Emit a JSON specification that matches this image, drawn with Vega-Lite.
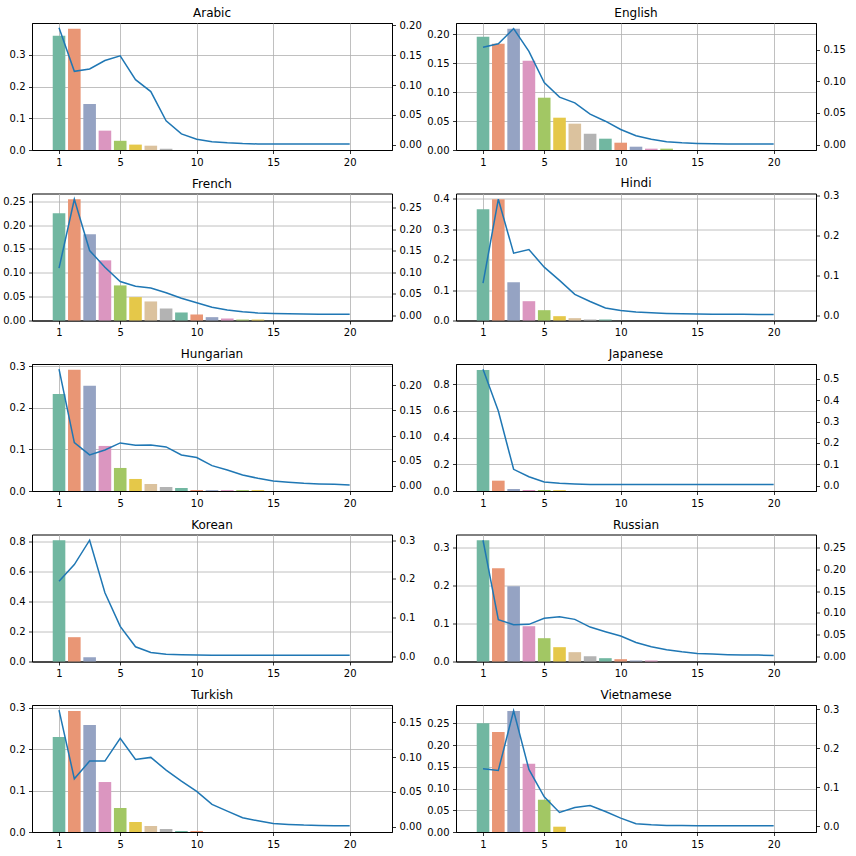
{
"$schema": "https://vega.github.io/schema/vega-lite/v6.json",
"autosize": {"type": "pad"},
"padding": {"left": 2, "top": 6, "right": 0, "bottom": 0},
"background": "white",
"config": {
 "font": "DejaVu Sans",
 "view": {"stroke": "#000", "strokeWidth": 1},
 "axis": {"labelFont": "DejaVu Sans", "labelFontSize": 10, "labelColor": "#000", "tickColor": "#000", "tickSize": 3.5, "tickWidth": 0.8, "labelPadding": 3.5, "domainColor": "#000", "domainWidth": 1, "gridColor": "#b0b0b0", "gridWidth": 0.8, "zindex": 1, "title": null},
 "title": {"font": "DejaVu Sans", "fontSize": 12, "fontWeight": "normal", "color": "#000", "offset": 6, "baseline": "alphabetic", "frame": "group", "anchor": "middle"}
},
"datasets": {
 "bars": [
  {"lang":"Arabic","x":1,"v":0.360},{"lang":"Arabic","x":2,"v":0.382},{"lang":"Arabic","x":3,"v":0.145},{"lang":"Arabic","x":4,"v":0.061},{"lang":"Arabic","x":5,"v":0.029},{"lang":"Arabic","x":6,"v":0.017},{"lang":"Arabic","x":7,"v":0.0136},{"lang":"Arabic","x":8,"v":0.004},
  {"lang":"English","x":1,"v":0.1954},{"lang":"English","x":2,"v":0.1833},{"lang":"English","x":3,"v":0.2092},{"lang":"English","x":4,"v":0.154},{"lang":"English","x":5,"v":0.0902},{"lang":"English","x":6,"v":0.0557},{"lang":"English","x":7,"v":0.0454},{"lang":"English","x":8,"v":0.0282},{"lang":"English","x":9,"v":0.0195},{"lang":"English","x":10,"v":0.0126},{"lang":"English","x":11,"v":0.0057},{"lang":"English","x":12,"v":0.0023},{"lang":"English","x":13,"v":0.0023},
  {"lang":"French","x":1,"v":0.2248},{"lang":"French","x":2,"v":0.2542},{"lang":"French","x":3,"v":0.1807},{"lang":"French","x":4,"v":0.126},{"lang":"French","x":5,"v":0.0735},{"lang":"French","x":6,"v":0.049},{"lang":"French","x":7,"v":0.0399},{"lang":"French","x":8,"v":0.0252},{"lang":"French","x":9,"v":0.0168},{"lang":"French","x":10,"v":0.0126},{"lang":"French","x":11,"v":0.007},{"lang":"French","x":12,"v":0.0042},{"lang":"French","x":13,"v":0.002},{"lang":"French","x":14,"v":0.002},
  {"lang":"Hindi","x":1,"v":0.365},{"lang":"Hindi","x":2,"v":0.398},{"lang":"Hindi","x":3,"v":0.1257},{"lang":"Hindi","x":4,"v":0.0634},{"lang":"Hindi","x":5,"v":0.0339},{"lang":"Hindi","x":6,"v":0.0142},{"lang":"Hindi","x":7,"v":0.0077},{"lang":"Hindi","x":8,"v":0.0033},{"lang":"Hindi","x":9,"v":0.0033},
  {"lang":"Hungarian","x":1,"v":0.234},{"lang":"Hungarian","x":2,"v":0.292},{"lang":"Hungarian","x":3,"v":0.2534},{"lang":"Hungarian","x":4,"v":0.1086},{"lang":"Hungarian","x":5,"v":0.0555},{"lang":"Hungarian","x":6,"v":0.029},{"lang":"Hungarian","x":7,"v":0.0169},{"lang":"Hungarian","x":8,"v":0.0097},{"lang":"Hungarian","x":9,"v":0.0072},{"lang":"Hungarian","x":10,"v":0.0024},{"lang":"Hungarian","x":11,"v":0.002},{"lang":"Hungarian","x":12,"v":0.002},{"lang":"Hungarian","x":13,"v":0.002},{"lang":"Hungarian","x":14,"v":0.002},
  {"lang":"Japanese","x":1,"v":0.907},{"lang":"Japanese","x":2,"v":0.0773},{"lang":"Japanese","x":3,"v":0.015},{"lang":"Japanese","x":4,"v":0.0075},{"lang":"Japanese","x":5,"v":0.0075},{"lang":"Japanese","x":6,"v":0.006},
  {"lang":"Korean","x":1,"v":0.8066},{"lang":"Korean","x":2,"v":0.1618},{"lang":"Korean","x":3,"v":0.0288},
  {"lang":"Russian","x":1,"v":0.3184},{"lang":"Russian","x":2,"v":0.2449},{"lang":"Russian","x":3,"v":0.1977},{"lang":"Russian","x":4,"v":0.0927},{"lang":"Russian","x":5,"v":0.0612},{"lang":"Russian","x":6,"v":0.0376},{"lang":"Russian","x":7,"v":0.0245},{"lang":"Russian","x":8,"v":0.014},{"lang":"Russian","x":9,"v":0.0087},{"lang":"Russian","x":10,"v":0.0061},{"lang":"Russian","x":11,"v":0.0026},{"lang":"Russian","x":12,"v":0.0026},
  {"lang":"Turkish","x":1,"v":0.2292},{"lang":"Turkish","x":2,"v":0.292},{"lang":"Turkish","x":3,"v":0.2582},{"lang":"Turkish","x":4,"v":0.1206},{"lang":"Turkish","x":5,"v":0.0579},{"lang":"Turkish","x":6,"v":0.0241},{"lang":"Turkish","x":7,"v":0.0145},{"lang":"Turkish","x":8,"v":0.0072},{"lang":"Turkish","x":9,"v":0.0024},{"lang":"Turkish","x":10,"v":0.0024},
  {"lang":"Vietnamese","x":1,"v":0.25},{"lang":"Vietnamese","x":2,"v":0.2301},{"lang":"Vietnamese","x":3,"v":0.2783},{"lang":"Vietnamese","x":4,"v":0.1567},{"lang":"Vietnamese","x":5,"v":0.0742},{"lang":"Vietnamese","x":6,"v":0.0122}
 ],
 "lines": [
  {"lang":"Arabic","x":1,"v":0.196},{"lang":"Arabic","x":2,"v":0.123},{"lang":"Arabic","x":3,"v":0.127},{"lang":"Arabic","x":4,"v":0.141},{"lang":"Arabic","x":5,"v":0.149},{"lang":"Arabic","x":6,"v":0.109},{"lang":"Arabic","x":7,"v":0.089},{"lang":"Arabic","x":8,"v":0.040},{"lang":"Arabic","x":9,"v":0.018},{"lang":"Arabic","x":10,"v":0.009},{"lang":"Arabic","x":11,"v":0.005},{"lang":"Arabic","x":12,"v":0.003},{"lang":"Arabic","x":13,"v":0.0017},{"lang":"Arabic","x":14,"v":0.0012},{"lang":"Arabic","x":15,"v":0.001},{"lang":"Arabic","x":16,"v":0.001},{"lang":"Arabic","x":17,"v":0.001},{"lang":"Arabic","x":18,"v":0.001},{"lang":"Arabic","x":19,"v":0.001},{"lang":"Arabic","x":20,"v":0.001},
  {"lang":"English","x":1,"v":0.1537},{"lang":"English","x":2,"v":0.159},{"lang":"English","x":3,"v":0.183},{"lang":"English","x":4,"v":0.147},{"lang":"English","x":5,"v":0.098},{"lang":"English","x":6,"v":0.075},{"lang":"English","x":7,"v":0.066},{"lang":"English","x":8,"v":0.048},{"lang":"English","x":9,"v":0.037},{"lang":"English","x":10,"v":0.024},{"lang":"English","x":11,"v":0.014},{"lang":"English","x":12,"v":0.0084},{"lang":"English","x":13,"v":0.0047},{"lang":"English","x":14,"v":0.003},{"lang":"English","x":15,"v":0.002},{"lang":"English","x":16,"v":0.0015},{"lang":"English","x":17,"v":0.0012},{"lang":"English","x":18,"v":0.001},{"lang":"English","x":19,"v":0.001},{"lang":"English","x":20,"v":0.001},
  {"lang":"French","x":1,"v":0.110},{"lang":"French","x":2,"v":0.270},{"lang":"French","x":3,"v":0.151},{"lang":"French","x":4,"v":0.112},{"lang":"French","x":5,"v":0.079},{"lang":"French","x":6,"v":0.068},{"lang":"French","x":7,"v":0.064},{"lang":"French","x":8,"v":0.053},{"lang":"French","x":9,"v":0.040},{"lang":"French","x":10,"v":0.0295},{"lang":"French","x":11,"v":0.019},{"lang":"French","x":12,"v":0.013},{"lang":"French","x":13,"v":0.0085},{"lang":"French","x":14,"v":0.006},{"lang":"French","x":15,"v":0.0047},{"lang":"French","x":16,"v":0.004},{"lang":"French","x":17,"v":0.0035},{"lang":"French","x":18,"v":0.003},{"lang":"French","x":19,"v":0.003},{"lang":"French","x":20,"v":0.003},
  {"lang":"Hindi","x":1,"v":0.080},{"lang":"Hindi","x":2,"v":0.290},{"lang":"Hindi","x":3,"v":0.155},{"lang":"Hindi","x":4,"v":0.164},{"lang":"Hindi","x":5,"v":0.120},{"lang":"Hindi","x":6,"v":0.087},{"lang":"Hindi","x":7,"v":0.052},{"lang":"Hindi","x":8,"v":0.034},{"lang":"Hindi","x":9,"v":0.018},{"lang":"Hindi","x":10,"v":0.0117},{"lang":"Hindi","x":11,"v":0.0075},{"lang":"Hindi","x":12,"v":0.0058},{"lang":"Hindi","x":13,"v":0.0042},{"lang":"Hindi","x":14,"v":0.0033},{"lang":"Hindi","x":15,"v":0.0025},{"lang":"Hindi","x":16,"v":0.0023},{"lang":"Hindi","x":17,"v":0.0021},{"lang":"Hindi","x":18,"v":0.0019},{"lang":"Hindi","x":19,"v":0.0018},{"lang":"Hindi","x":20,"v":0.0017},
  {"lang":"Hungarian","x":1,"v":0.2318},{"lang":"Hungarian","x":2,"v":0.0861},{"lang":"Hungarian","x":3,"v":0.0616},{"lang":"Hungarian","x":4,"v":0.0715},{"lang":"Hungarian","x":5,"v":0.0854},{"lang":"Hungarian","x":6,"v":0.0808},{"lang":"Hungarian","x":7,"v":0.0815},{"lang":"Hungarian","x":8,"v":0.0775},{"lang":"Hungarian","x":9,"v":0.0616},{"lang":"Hungarian","x":10,"v":0.0563},{"lang":"Hungarian","x":11,"v":0.0404},{"lang":"Hungarian","x":12,"v":0.0318},{"lang":"Hungarian","x":13,"v":0.0219},{"lang":"Hungarian","x":14,"v":0.0152},{"lang":"Hungarian","x":15,"v":0.0099},{"lang":"Hungarian","x":16,"v":0.0073},{"lang":"Hungarian","x":17,"v":0.0053},{"lang":"Hungarian","x":18,"v":0.004},{"lang":"Hungarian","x":19,"v":0.0033},{"lang":"Hungarian","x":20,"v":0.002},
  {"lang":"Japanese","x":1,"v":0.545},{"lang":"Japanese","x":2,"v":0.350},{"lang":"Japanese","x":3,"v":0.0766},{"lang":"Japanese","x":4,"v":0.042},{"lang":"Japanese","x":5,"v":0.017},{"lang":"Japanese","x":6,"v":0.011},{"lang":"Japanese","x":7,"v":0.008},{"lang":"Japanese","x":8,"v":0.006},{"lang":"Japanese","x":9,"v":0.0055},{"lang":"Japanese","x":10,"v":0.005},{"lang":"Japanese","x":11,"v":0.005},{"lang":"Japanese","x":12,"v":0.005},{"lang":"Japanese","x":13,"v":0.005},{"lang":"Japanese","x":14,"v":0.005},{"lang":"Japanese","x":15,"v":0.005},{"lang":"Japanese","x":16,"v":0.005},{"lang":"Japanese","x":17,"v":0.005},{"lang":"Japanese","x":18,"v":0.005},{"lang":"Japanese","x":19,"v":0.005},{"lang":"Japanese","x":20,"v":0.005},
  {"lang":"Korean","x":1,"v":0.1937},{"lang":"Korean","x":2,"v":0.237},{"lang":"Korean","x":3,"v":0.300},{"lang":"Korean","x":4,"v":0.164},{"lang":"Korean","x":5,"v":0.077},{"lang":"Korean","x":6,"v":0.024},{"lang":"Korean","x":7,"v":0.0095},{"lang":"Korean","x":8,"v":0.005},{"lang":"Korean","x":9,"v":0.0035},{"lang":"Korean","x":10,"v":0.0026},{"lang":"Korean","x":11,"v":0.0023},{"lang":"Korean","x":12,"v":0.0021},{"lang":"Korean","x":13,"v":0.002},{"lang":"Korean","x":14,"v":0.002},{"lang":"Korean","x":15,"v":0.002},{"lang":"Korean","x":16,"v":0.002},{"lang":"Korean","x":17,"v":0.002},{"lang":"Korean","x":18,"v":0.002},{"lang":"Korean","x":19,"v":0.002},{"lang":"Korean","x":20,"v":0.002},
  {"lang":"Russian","x":1,"v":0.2677},{"lang":"Russian","x":2,"v":0.0841},{"lang":"Russian","x":3,"v":0.0725},{"lang":"Russian","x":4,"v":0.0733},{"lang":"Russian","x":5,"v":0.0872},{"lang":"Russian","x":6,"v":0.091},{"lang":"Russian","x":7,"v":0.0849},{"lang":"Russian","x":8,"v":0.0671},{"lang":"Russian","x":9,"v":0.0563},{"lang":"Russian","x":10,"v":0.0463},{"lang":"Russian","x":11,"v":0.0316},{"lang":"Russian","x":12,"v":0.0216},{"lang":"Russian","x":13,"v":0.0147},{"lang":"Russian","x":14,"v":0.01},{"lang":"Russian","x":15,"v":0.0062},{"lang":"Russian","x":16,"v":0.0046},{"lang":"Russian","x":17,"v":0.0031},{"lang":"Russian","x":18,"v":0.0023},{"lang":"Russian","x":19,"v":0.0023},{"lang":"Russian","x":20,"v":0.0015},
  {"lang":"Turkish","x":1,"v":0.1677},{"lang":"Turkish","x":2,"v":0.069},{"lang":"Turkish","x":3,"v":0.0944},{"lang":"Turkish","x":4,"v":0.0944},{"lang":"Turkish","x":5,"v":0.127},{"lang":"Turkish","x":6,"v":0.0968},{"lang":"Turkish","x":7,"v":0.0997},{"lang":"Turkish","x":8,"v":0.0815},{"lang":"Turkish","x":9,"v":0.0657},{"lang":"Turkish","x":10,"v":0.0508},{"lang":"Turkish","x":11,"v":0.0321},{"lang":"Turkish","x":12,"v":0.0225},{"lang":"Turkish","x":13,"v":0.0129},{"lang":"Turkish","x":14,"v":0.0086},{"lang":"Turkish","x":15,"v":0.0048},{"lang":"Turkish","x":16,"v":0.0034},{"lang":"Turkish","x":17,"v":0.0024},{"lang":"Turkish","x":18,"v":0.0019},{"lang":"Turkish","x":19,"v":0.0014},{"lang":"Turkish","x":20,"v":0.0014},
  {"lang":"Vietnamese","x":1,"v":0.147},{"lang":"Vietnamese","x":2,"v":0.1427},{"lang":"Vietnamese","x":3,"v":0.2957},{"lang":"Vietnamese","x":4,"v":0.1453},{"lang":"Vietnamese","x":5,"v":0.0752},{"lang":"Vietnamese","x":6,"v":0.035},{"lang":"Vietnamese","x":7,"v":0.0479},{"lang":"Vietnamese","x":8,"v":0.053},{"lang":"Vietnamese","x":9,"v":0.0376},{"lang":"Vietnamese","x":10,"v":0.0205},{"lang":"Vietnamese","x":11,"v":0.006},{"lang":"Vietnamese","x":12,"v":0.0034},{"lang":"Vietnamese","x":13,"v":0.0017},{"lang":"Vietnamese","x":14,"v":0.0014},{"lang":"Vietnamese","x":15,"v":0.0012},{"lang":"Vietnamese","x":16,"v":0.0011},{"lang":"Vietnamese","x":17,"v":0.001},{"lang":"Vietnamese","x":18,"v":0.001},{"lang":"Vietnamese","x":19,"v":0.001},{"lang":"Vietnamese","x":20,"v":0.0009}
 ]
},
"columns": 2,
"spacing": {"row": 43.5, "column": 64},
"bounds": "flush",
"concat": [
 {"title": {"text": "Arabic", "offset": 0}, "width": 360, "height": 127,
  "layer": [
   {"data": {"name": "bars"}, "transform": [{"filter": "datum.lang === 'Arabic'"}], "mark": {"type": "bar", "size": 12.6},
    "encoding": {"x": {"field": "x", "type": "quantitative", "scale": {"domain": [-0.44, 22.44], "nice": false, "zero": false}, "axis": {"values": [1,5,10,15,20], "format": "d", "grid": true}},
     "y": {"field": "v", "type": "quantitative", "scale": {"domain": [0, 0.4], "nice": false}, "axis": {"orient": "left", "values": [0,0.1,0.2,0.3], "format": ".1f", "grid": true}},
     "color": {"field": "x", "type": "ordinal", "scale": {"domain": [1,2,3,4,5,6,7,8,9,10,11,12,13,14], "range": ["#71b7a1","#e99675","#95a3c3","#db96c0","#a2c764","#e5c849","#dbc29e","#b3b3b3","#71b7a1","#e99675","#95a3c3","#db96c0","#a2c764","#e5c849"]}, "legend": null}}},
   {"data": {"name": "lines"}, "transform": [{"filter": "datum.lang === 'Arabic'"}], "mark": {"type": "line", "color": "#1f77b4", "strokeWidth": 1.5},
    "encoding": {"x": {"field": "x", "type": "quantitative"},
     "y": {"field": "v", "type": "quantitative", "scale": {"domain": [-0.009, 0.204], "nice": false, "zero": false}, "axis": {"orient": "right", "values": [0,0.05,0.1,0.15,0.2], "format": ".2f", "grid": false}}}}
  ],
  "resolve": {"scale": {"y": "independent"}, "axis": {"y": "independent"}}},
 {"title": {"text": "English", "offset": 2.7}, "width": 360, "height": 127,
  "layer": [
   {"data": {"name": "bars"}, "transform": [{"filter": "datum.lang === 'English'"}], "mark": {"type": "bar", "size": 12.6},
    "encoding": {"x": {"field": "x", "type": "quantitative", "scale": {"domain": [-0.44, 22.44], "nice": false, "zero": false}, "axis": {"values": [1,5,10,15,20], "format": "d", "grid": true}},
     "y": {"field": "v", "type": "quantitative", "scale": {"domain": [0, 0.219], "nice": false}, "axis": {"orient": "left", "values": [0,0.05,0.1,0.15,0.2], "format": ".2f", "grid": true}},
     "color": {"field": "x", "type": "ordinal", "scale": {"domain": [1,2,3,4,5,6,7,8,9,10,11,12,13,14], "range": ["#71b7a1","#e99675","#95a3c3","#db96c0","#a2c764","#e5c849","#dbc29e","#b3b3b3","#71b7a1","#e99675","#95a3c3","#db96c0","#a2c764","#e5c849"]}, "legend": null}}},
   {"data": {"name": "lines"}, "transform": [{"filter": "datum.lang === 'English'"}], "mark": {"type": "line", "color": "#1f77b4", "strokeWidth": 1.5},
    "encoding": {"x": {"field": "x", "type": "quantitative"},
     "y": {"field": "v", "type": "quantitative", "scale": {"domain": [-0.0084, 0.1918], "nice": false, "zero": false}, "axis": {"orient": "right", "values": [0,0.05,0.1,0.15], "format": ".2f", "grid": false}}}}
  ],
  "resolve": {"scale": {"y": "independent"}, "axis": {"y": "independent"}}},
 {"title": {"text": "French", "offset": 2.7}, "width": 360, "height": 127,
  "layer": [
   {"data": {"name": "bars"}, "transform": [{"filter": "datum.lang === 'French'"}], "mark": {"type": "bar", "size": 12.6},
    "encoding": {"x": {"field": "x", "type": "quantitative", "scale": {"domain": [-0.44, 22.44], "nice": false, "zero": false}, "axis": {"values": [1,5,10,15,20], "format": "d", "grid": true}},
     "y": {"field": "v", "type": "quantitative", "scale": {"domain": [0, 0.266], "nice": false}, "axis": {"orient": "left", "values": [0,0.05,0.1,0.15,0.2,0.25], "format": ".2f", "grid": true}},
     "color": {"field": "x", "type": "ordinal", "scale": {"domain": [1,2,3,4,5,6,7,8,9,10,11,12,13,14], "range": ["#71b7a1","#e99675","#95a3c3","#db96c0","#a2c764","#e5c849","#dbc29e","#b3b3b3","#71b7a1","#e99675","#95a3c3","#db96c0","#a2c764","#e5c849"]}, "legend": null}}},
   {"data": {"name": "lines"}, "transform": [{"filter": "datum.lang === 'French'"}], "mark": {"type": "line", "color": "#1f77b4", "strokeWidth": 1.5},
    "encoding": {"x": {"field": "x", "type": "quantitative"},
     "y": {"field": "v", "type": "quantitative", "scale": {"domain": [-0.0116, 0.2834], "nice": false, "zero": false}, "axis": {"orient": "right", "values": [0,0.05,0.1,0.15,0.2,0.25], "format": ".2f", "grid": false}}}}
  ],
  "resolve": {"scale": {"y": "independent"}, "axis": {"y": "independent"}}},
 {"title": {"text": "Hindi", "offset": 0}, "width": 360, "height": 127,
  "layer": [
   {"data": {"name": "bars"}, "transform": [{"filter": "datum.lang === 'Hindi'"}], "mark": {"type": "bar", "size": 12.6},
    "encoding": {"x": {"field": "x", "type": "quantitative", "scale": {"domain": [-0.44, 22.44], "nice": false, "zero": false}, "axis": {"values": [1,5,10,15,20], "format": "d", "grid": true}},
     "y": {"field": "v", "type": "quantitative", "scale": {"domain": [0, 0.417], "nice": false}, "axis": {"orient": "left", "values": [0,0.1,0.2,0.3,0.4], "format": ".1f", "grid": true}},
     "color": {"field": "x", "type": "ordinal", "scale": {"domain": [1,2,3,4,5,6,7,8,9,10,11,12,13,14], "range": ["#71b7a1","#e99675","#95a3c3","#db96c0","#a2c764","#e5c849","#dbc29e","#b3b3b3","#71b7a1","#e99675","#95a3c3","#db96c0","#a2c764","#e5c849"]}, "legend": null}}},
   {"data": {"name": "lines"}, "transform": [{"filter": "datum.lang === 'Hindi'"}], "mark": {"type": "line", "color": "#1f77b4", "strokeWidth": 1.5},
    "encoding": {"x": {"field": "x", "type": "quantitative"},
     "y": {"field": "v", "type": "quantitative", "scale": {"domain": [-0.0135, 0.3043], "nice": false, "zero": false}, "axis": {"orient": "right", "values": [0,0.1,0.2,0.3], "format": ".1f", "grid": false}}}}
  ],
  "resolve": {"scale": {"y": "independent"}, "axis": {"y": "independent"}}},
 {"title": {"text": "Hungarian", "offset": 0.2}, "width": 360, "height": 127,
  "layer": [
   {"data": {"name": "bars"}, "transform": [{"filter": "datum.lang === 'Hungarian'"}], "mark": {"type": "bar", "size": 12.6},
    "encoding": {"x": {"field": "x", "type": "quantitative", "scale": {"domain": [-0.44, 22.44], "nice": false, "zero": false}, "axis": {"values": [1,5,10,15,20], "format": "d", "grid": true}},
     "y": {"field": "v", "type": "quantitative", "scale": {"domain": [0, 0.306], "nice": false}, "axis": {"orient": "left", "values": [0,0.1,0.2,0.3], "format": ".1f", "grid": true}},
     "color": {"field": "x", "type": "ordinal", "scale": {"domain": [1,2,3,4,5,6,7,8,9,10,11,12,13,14], "range": ["#71b7a1","#e99675","#95a3c3","#db96c0","#a2c764","#e5c849","#dbc29e","#b3b3b3","#71b7a1","#e99675","#95a3c3","#db96c0","#a2c764","#e5c849"]}, "legend": null}}},
   {"data": {"name": "lines"}, "transform": [{"filter": "datum.lang === 'Hungarian'"}], "mark": {"type": "line", "color": "#1f77b4", "strokeWidth": 1.5},
    "encoding": {"x": {"field": "x", "type": "quantitative"},
     "y": {"field": "v", "type": "quantitative", "scale": {"domain": [-0.010, 0.242], "nice": false, "zero": false}, "axis": {"orient": "right", "values": [0,0.05,0.1,0.15,0.2], "format": ".2f", "grid": false}}}}
  ],
  "resolve": {"scale": {"y": "independent"}, "axis": {"y": "independent"}}},
 {"title": {"text": "Japanese", "offset": 2.7}, "width": 360, "height": 127,
  "layer": [
   {"data": {"name": "bars"}, "transform": [{"filter": "datum.lang === 'Japanese'"}], "mark": {"type": "bar", "size": 12.6},
    "encoding": {"x": {"field": "x", "type": "quantitative", "scale": {"domain": [-0.44, 22.44], "nice": false, "zero": false}, "axis": {"values": [1,5,10,15,20], "format": "d", "grid": true}},
     "y": {"field": "v", "type": "quantitative", "scale": {"domain": [0, 0.951], "nice": false}, "axis": {"orient": "left", "values": [0,0.2,0.4,0.6,0.8], "format": ".1f", "grid": true}},
     "color": {"field": "x", "type": "ordinal", "scale": {"domain": [1,2,3,4,5,6,7,8,9,10,11,12,13,14], "range": ["#71b7a1","#e99675","#95a3c3","#db96c0","#a2c764","#e5c849","#dbc29e","#b3b3b3","#71b7a1","#e99675","#95a3c3","#db96c0","#a2c764","#e5c849"]}, "legend": null}}},
   {"data": {"name": "lines"}, "transform": [{"filter": "datum.lang === 'Japanese'"}], "mark": {"type": "line", "color": "#1f77b4", "strokeWidth": 1.5},
    "encoding": {"x": {"field": "x", "type": "quantitative"},
     "y": {"field": "v", "type": "quantitative", "scale": {"domain": [-0.025, 0.570], "nice": false, "zero": false}, "axis": {"orient": "right", "values": [0,0.1,0.2,0.3,0.4,0.5], "format": ".1f", "grid": false}}}}
  ],
  "resolve": {"scale": {"y": "independent"}, "axis": {"y": "independent"}}},
 {"title": {"text": "Korean", "offset": 2.7}, "width": 360, "height": 127,
  "layer": [
   {"data": {"name": "bars"}, "transform": [{"filter": "datum.lang === 'Korean'"}], "mark": {"type": "bar", "size": 12.6},
    "encoding": {"x": {"field": "x", "type": "quantitative", "scale": {"domain": [-0.44, 22.44], "nice": false, "zero": false}, "axis": {"values": [1,5,10,15,20], "format": "d", "grid": true}},
     "y": {"field": "v", "type": "quantitative", "scale": {"domain": [0, 0.845], "nice": false}, "axis": {"orient": "left", "values": [0,0.2,0.4,0.6,0.8], "format": ".1f", "grid": true}},
     "color": {"field": "x", "type": "ordinal", "scale": {"domain": [1,2,3,4,5,6,7,8,9,10,11,12,13,14], "range": ["#71b7a1","#e99675","#95a3c3","#db96c0","#a2c764","#e5c849","#dbc29e","#b3b3b3","#71b7a1","#e99675","#95a3c3","#db96c0","#a2c764","#e5c849"]}, "legend": null}}},
   {"data": {"name": "lines"}, "transform": [{"filter": "datum.lang === 'Korean'"}], "mark": {"type": "line", "color": "#1f77b4", "strokeWidth": 1.5},
    "encoding": {"x": {"field": "x", "type": "quantitative"},
     "y": {"field": "v", "type": "quantitative", "scale": {"domain": [-0.014, 0.3148], "nice": false, "zero": false}, "axis": {"orient": "right", "values": [0,0.1,0.2,0.3], "format": ".1f", "grid": false}}}}
  ],
  "resolve": {"scale": {"y": "independent"}, "axis": {"y": "independent"}}},
 {"title": {"text": "Russian", "offset": 2.7}, "width": 360, "height": 127,
  "layer": [
   {"data": {"name": "bars"}, "transform": [{"filter": "datum.lang === 'Russian'"}], "mark": {"type": "bar", "size": 12.6},
    "encoding": {"x": {"field": "x", "type": "quantitative", "scale": {"domain": [-0.44, 22.44], "nice": false, "zero": false}, "axis": {"values": [1,5,10,15,20], "format": "d", "grid": true}},
     "y": {"field": "v", "type": "quantitative", "scale": {"domain": [0, 0.3335], "nice": false}, "axis": {"orient": "left", "values": [0,0.1,0.2,0.3], "format": ".1f", "grid": true}},
     "color": {"field": "x", "type": "ordinal", "scale": {"domain": [1,2,3,4,5,6,7,8,9,10,11,12,13,14], "range": ["#71b7a1","#e99675","#95a3c3","#db96c0","#a2c764","#e5c849","#dbc29e","#b3b3b3","#71b7a1","#e99675","#95a3c3","#db96c0","#a2c764","#e5c849"]}, "legend": null}}},
   {"data": {"name": "lines"}, "transform": [{"filter": "datum.lang === 'Russian'"}], "mark": {"type": "line", "color": "#1f77b4", "strokeWidth": 1.5},
    "encoding": {"x": {"field": "x", "type": "quantitative"},
     "y": {"field": "v", "type": "quantitative", "scale": {"domain": [-0.0125, 0.281], "nice": false, "zero": false}, "axis": {"orient": "right", "values": [0,0.05,0.1,0.15,0.2,0.25], "format": ".2f", "grid": false}}}}
  ],
  "resolve": {"scale": {"y": "independent"}, "axis": {"y": "independent"}}},
 {"title": {"text": "Turkish", "offset": 0.4}, "width": 360, "height": 127,
  "layer": [
   {"data": {"name": "bars"}, "transform": [{"filter": "datum.lang === 'Turkish'"}], "mark": {"type": "bar", "size": 12.6},
    "encoding": {"x": {"field": "x", "type": "quantitative", "scale": {"domain": [-0.44, 22.44], "nice": false, "zero": false}, "axis": {"values": [1,5,10,15,20], "format": "d", "grid": true}},
     "y": {"field": "v", "type": "quantitative", "scale": {"domain": [0, 0.3065], "nice": false}, "axis": {"orient": "left", "values": [0,0.1,0.2,0.3], "format": ".1f", "grid": true}},
     "color": {"field": "x", "type": "ordinal", "scale": {"domain": [1,2,3,4,5,6,7,8,9,10,11,12,13,14], "range": ["#71b7a1","#e99675","#95a3c3","#db96c0","#a2c764","#e5c849","#dbc29e","#b3b3b3","#71b7a1","#e99675","#95a3c3","#db96c0","#a2c764","#e5c849"]}, "legend": null}}},
   {"data": {"name": "lines"}, "transform": [{"filter": "datum.lang === 'Turkish'"}], "mark": {"type": "line", "color": "#1f77b4", "strokeWidth": 1.5},
    "encoding": {"x": {"field": "x", "type": "quantitative"},
     "y": {"field": "v", "type": "quantitative", "scale": {"domain": [-0.0075, 0.175], "nice": false, "zero": false}, "axis": {"orient": "right", "values": [0,0.05,0.1,0.15], "format": ".2f", "grid": false}}}}
  ],
  "resolve": {"scale": {"y": "independent"}, "axis": {"y": "independent"}}},
 {"title": {"text": "Vietnamese", "offset": 1.8}, "width": 360, "height": 127,
  "layer": [
   {"data": {"name": "bars"}, "transform": [{"filter": "datum.lang === 'Vietnamese'"}], "mark": {"type": "bar", "size": 12.6},
    "encoding": {"x": {"field": "x", "type": "quantitative", "scale": {"domain": [-0.44, 22.44], "nice": false, "zero": false}, "axis": {"values": [1,5,10,15,20], "format": "d", "grid": true}},
     "y": {"field": "v", "type": "quantitative", "scale": {"domain": [0, 0.292], "nice": false}, "axis": {"orient": "left", "values": [0,0.05,0.1,0.15,0.2,0.25], "format": ".2f", "grid": true}},
     "color": {"field": "x", "type": "ordinal", "scale": {"domain": [1,2,3,4,5,6,7,8,9,10,11,12,13,14], "range": ["#71b7a1","#e99675","#95a3c3","#db96c0","#a2c764","#e5c849","#dbc29e","#b3b3b3","#71b7a1","#e99675","#95a3c3","#db96c0","#a2c764","#e5c849"]}, "legend": null}}},
   {"data": {"name": "lines"}, "transform": [{"filter": "datum.lang === 'Vietnamese'"}], "mark": {"type": "line", "color": "#1f77b4", "strokeWidth": 1.5},
    "encoding": {"x": {"field": "x", "type": "quantitative"},
     "y": {"field": "v", "type": "quantitative", "scale": {"domain": [-0.015, 0.3104], "nice": false, "zero": false}, "axis": {"orient": "right", "values": [0,0.1,0.2,0.3], "format": ".1f", "grid": false}}}}
  ],
  "resolve": {"scale": {"y": "independent"}, "axis": {"y": "independent"}}}
]
}
